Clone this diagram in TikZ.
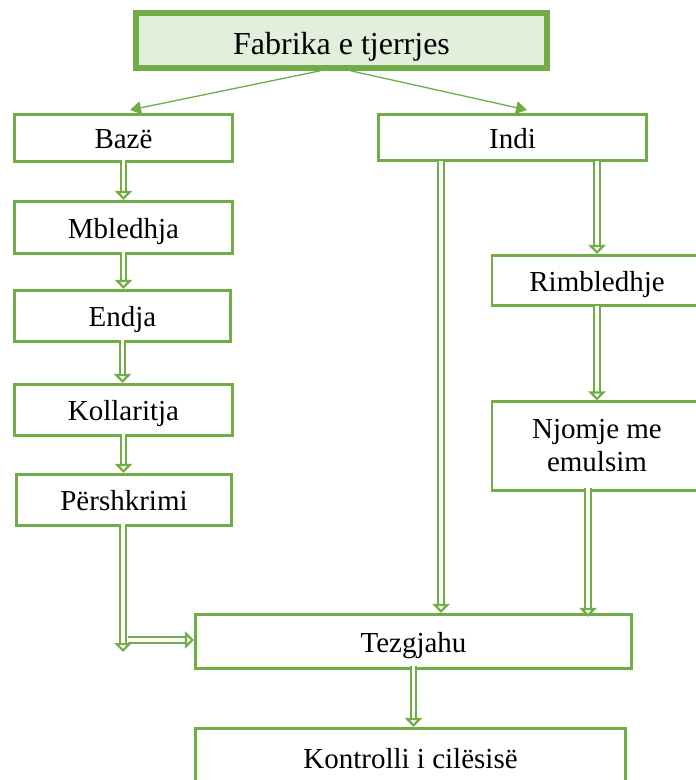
\documentclass[tikz,border=0pt]{standalone}
\usepackage{fontspec}
\setmainfont{Liberation Serif}
\usetikzlibrary{arrows.meta}
\definecolor{boxgreen}{RGB}{112,173,71}
\definecolor{headfill}{RGB}{226,239,218}

\begin{document}
\begin{tikzpicture}[x=1pt, y=-1pt,
    box/.style={draw=boxgreen, line width=2.6pt, fill=white, inner sep=0pt,
                font=\fontsize{29}{33}\selectfont},
    oneline/.style={text height=28pt, text depth=7pt},
    headbox/.style={box, line width=5.5pt, fill=headfill, font=\fontsize{32}{36}\selectfont,
                    text height=32pt, text depth=4pt},
    link/.style={draw=boxgreen, line width=1.3pt, -{Triangle[length=11pt, width=13pt]}},
    dbl/.style={draw=boxgreen, line width=2.2pt, double=white, double distance=3.2pt,
                -{Triangle[open, fill=white, length=9pt, width=17pt]}}]
  \useasboundingbox (0,0) rectangle (696,780);

  % head of the diagram
  \node[headbox, minimum width=411pt, minimum height=55pt] (fabrika) at (341.5,40.5) {Fabrika e tjerrjes};

  % left column: the warp
  \node[box, oneline, minimum width=218pt, minimum height=47.5pt] (baze) at (123.5,138) {Bazë};
  \node[box, oneline, minimum width=218pt, minimum height=52.5pt] (mbledhja) at (123.5,227.5) {Mbledhja};
  \node[box, oneline, minimum width=216pt, minimum height=51.5pt] (endja) at (122.5,316) {Endja};
  \node[box, oneline, minimum width=218pt, minimum height=51.5pt] (kollaritja) at (123.5,410) {Kollaritja};
  \node[box, oneline, minimum width=215.5pt, minimum height=51.5pt] (pershkrimi) at (124,500) {Përshkrimi};

  % right column: the weft
  \node[box, oneline, minimum width=268.5pt, minimum height=46.5pt] (indi) at (512.5,137.5) {Indi};
  \node[box, oneline, minimum width=210pt, minimum height=50.5pt] (rimbledhje) at (597,280.5) {Rimbledhje};
  \node[box, align=center, minimum width=210pt, minimum height=88.5pt] (njomje) at (597,446) {Njomje me\\emulsim};

  % bottom
  \node[box, oneline, minimum width=436.5pt, minimum height=54.5pt] (tezgjahu) at (413.5,641.5) {Tezgjahu};
  \node[box, oneline, minimum width=430.5pt, minimum height=59.5pt] (kontrolli) at (410.5,758) {Kontrolli i cilësisë};
  \coordinate (elbow) at (123,652);

  % connectors
  \draw[link] ([xshift=-21pt]fabrika.south) -- (130,110);
  \draw[link] ([xshift=9pt]fabrika.south) -- (527,110);
  \draw[dbl] ([yshift=3pt]baze.south) -- (mbledhja.north);
  \draw[dbl] ([yshift=3pt]mbledhja.south) -- (mbledhja.south |- endja.north);
  \draw[dbl] ([yshift=3pt]endja.south) -- (endja.south |- kollaritja.north);
  \draw[dbl] ([yshift=3pt]kollaritja.south) -- (kollaritja.south |- pershkrimi.north);
  \draw[dbl] ([yshift=3pt]pershkrimi.south -| elbow) -- (elbow);
  \draw[dbl] ([xshift=5pt,yshift=1.5pt]elbow |- tezgjahu.west) -- ([yshift=1.5pt]tezgjahu.west);
  \draw[dbl] ([xshift=-71.5pt,yshift=1pt]indi.south) -- ([xshift=-71.5pt]indi.south |- tezgjahu.north);
  \draw[dbl] ([yshift=1pt]indi.south -| rimbledhje.north) -- (rimbledhje.north);
  \draw[dbl] ([yshift=1pt]rimbledhje.south) -- (njomje.north);
  \draw[dbl] ([xshift=-9pt,yshift=4pt]njomje.south) -- ([xshift=-9pt,yshift=-4pt]njomje.south |- tezgjahu.north);
  \draw[dbl] ([yshift=4pt]tezgjahu.south) -- (tezgjahu.south |- kontrolli.north);
\end{tikzpicture}
\end{document}
